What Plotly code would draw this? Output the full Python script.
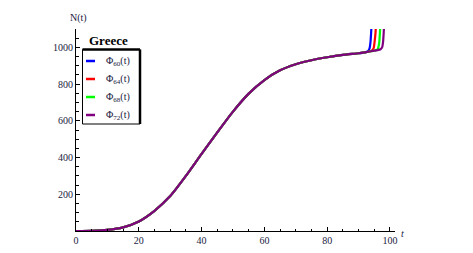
import plotly.graph_objects as go

# ---- data ----
t_common = [0, 5, 10, 15, 20, 25, 30, 35, 40, 45, 50, 55, 60, 65, 70, 75, 80, 85, 90, 92]
n_common = [0, 1, 6, 20, 52, 110, 190, 300, 420, 537, 650, 748, 822, 875, 908, 930, 946, 959, 968, 973]

t_tail_60 = [93.0, 93.5, 93.8, 94.0, 94.2]
n_tail_60 = [980, 995, 1030, 1080, 1150]
t_tail_64 = [93.0, 94.0, 94.8, 95.1, 95.4, 95.6]
n_tail_64 = [976, 980, 996, 1030, 1080, 1150]
t_tail_68 = [93.0, 94.0, 95.0, 96.0, 96.3, 96.6, 96.8, 97.0]
n_tail_68 = [976, 979, 982, 988, 1000, 1030, 1080, 1150]
t_tail_72 = [93.0, 94.0, 95.0, 96.0, 97.0, 97.5, 97.8, 98.0, 98.2]
n_tail_72 = [976, 979, 982, 985, 990, 1000, 1030, 1080, 1150]

series_names = ["Φ<sub>60</sub>(t)", "Φ<sub>64</sub>(t)", "Φ<sub>68</sub>(t)", "Φ<sub>72</sub>(t)"]
series_colors = ["#0000ff", "#ff0000", "#00ff00", "#800080"]
tails = [(t_tail_60, n_tail_60), (t_tail_64, n_tail_64), (t_tail_68, n_tail_68), (t_tail_72, n_tail_72)]

x_ticks = [0, 20, 40, 60, 80, 100]
y_ticks = [200, 400, 600, 800, 1000]

fig = go.Figure()
for name, col, (tt, nn) in zip(series_names, series_colors, tails):
    fig.add_trace(go.Scatter(x=t_common + tt, y=n_common + nn, mode="lines",
                             line=dict(color=col, width=2.2, shape="spline", smoothing=0.5),
                             name=name, showlegend=False))

tick_font = dict(family="Liberation Serif", size=10, color="#1a1a40")
fig.update_layout(
    width=465, height=245,
    margin=dict(l=68, r=78, t=21, b=22, autoexpand=False),
    plot_bgcolor="white", paper_bgcolor="white",
    showlegend=False,
    xaxis=dict(range=[0, 101.6], showline=True, linecolor="black", linewidth=1, automargin=False,
               showgrid=False, zeroline=False, ticks="inside", ticklen=4, tickcolor="black",
               tickvals=x_ticks, ticktext=[str(v) for v in x_ticks], tickfont=tick_font,
               minor=dict(dtick=5, tick0=0, ticks="inside", ticklen=2.5, tickcolor="black")),
    yaxis=dict(range=[0, 1100], showline=True, linecolor="black", linewidth=1, automargin=False,
               showgrid=False, zeroline=False, ticks="inside", ticklen=4, tickcolor="black",
               tickvals=y_ticks, ticktext=[str(v) for v in y_ticks], tickfont=tick_font,
               minor=dict(dtick=50, tick0=0, ticks="inside", ticklen=2.5, tickcolor="black")),
)

PLOT_TOP, PLOT_BOTTOM = 29, 231

def px2paper(px, py):
    return (px - 76) / 319.0, (PLOT_BOTTOM - py) / float(PLOT_BOTTOM - PLOT_TOP)

annotations = []
shapes = []
xa, ya = px2paper(78, 18)
annotations.append(dict(text="N(t)", x=xa, y=ya, xref="paper", yref="paper", showarrow=False,
                        xanchor="center", yanchor="middle",
                        font=dict(family="Liberation Serif", size=10, color="#1a1a40")))
xa, ya = px2paper(403, 233)
annotations.append(dict(text="<i>t</i>", x=xa, y=ya, xref="paper", yref="paper", showarrow=False,
                        xanchor="center", yanchor="middle",
                        font=dict(family="Liberation Serif", size=10, color="#1a1a40")))

# legend box
x0, y0 = px2paper(82.5, 124)
x1, y1 = px2paper(140, 49.5)
shapes.append(dict(type="rect", xref="paper", yref="paper", x0=x0, y0=y0, x1=x1, y1=y1,
                   line=dict(color="black", width=1), fillcolor="white", layer="above"))
shapes.append(dict(type="line", xref="paper", yref="paper", x0=x0, y0=y1, x1=x1, y1=y1,
                   line=dict(color="black", width=2.5)))
shapes.append(dict(type="line", xref="paper", yref="paper", x0=x1, y0=y0, x1=x1, y1=y1,
                   line=dict(color="black", width=2.5)))
xa, ya = px2paper(108, 40)
annotations.append(dict(text="<b>Greece</b>", x=xa, y=ya, xref="paper", yref="paper", showarrow=False,
                        xanchor="center", yanchor="middle",
                        font=dict(family="Liberation Serif", size=13, color="black")))
for i, (name, col) in enumerate(zip(series_names, series_colors)):
    py = 61 + 18 * i
    lx0, ly = px2paper(86, py)
    lx1, _ = px2paper(95, py)
    shapes.append(dict(type="line", xref="paper", yref="paper", x0=lx0, y0=ly, x1=lx1, y1=ly,
                       line=dict(color=col, width=2.5)))
    tx, _ = px2paper(104, py)
    annotations.append(dict(text=name, x=tx, y=ly, xref="paper", yref="paper", showarrow=False,
                            xanchor="left", yanchor="middle",
                            font=dict(family="Liberation Serif", size=10, color="#1a1a40")))

fig.update_layout(annotations=annotations, shapes=shapes)
fig.write_html("out.html")
